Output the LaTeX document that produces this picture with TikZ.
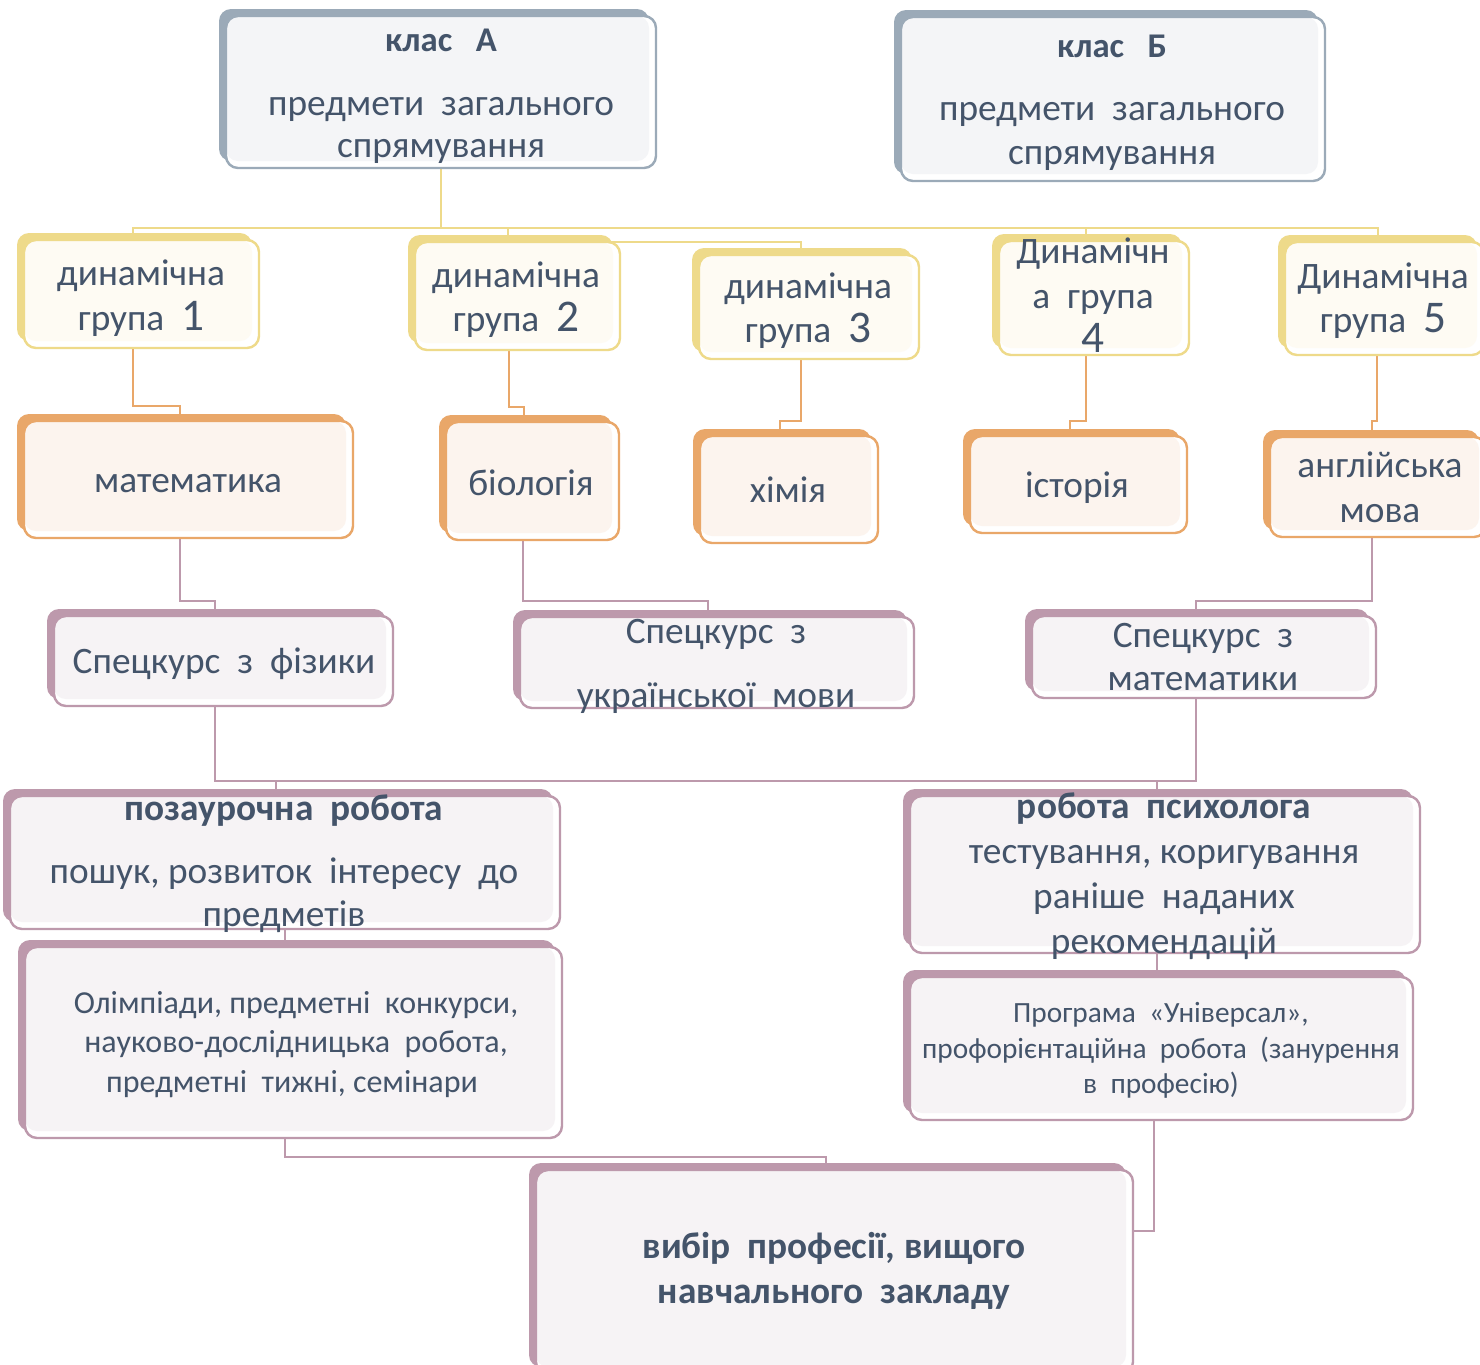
\documentclass[tikz,border=0pt]{standalone}
\usepackage{fontspec}
\setmainfont{Carlito}
\usetikzlibrary{shadows,backgrounds}
\definecolor{txt}{HTML}{44546A}
\definecolor{Gcol}{HTML}{9BAAB8}
\definecolor{Gfil}{HTML}{F4F5F7}
\definecolor{Ycol}{HTML}{EEDA8A}
\definecolor{Yfil}{HTML}{FEFBF3}
\definecolor{Ocol}{HTML}{E9A769}
\definecolor{Ofil}{HTML}{FCF4EE}
\definecolor{Mcol}{HTML}{BD99AC}
\definecolor{Mfil}{HTML}{F6F3F5}
\newcommand\fBody{\fontsize{28pt}{32pt}\selectfont}
\newcommand\fTitle{\fontsize{26pt}{30pt}\selectfont\bfseries}
\newcommand\fBold{\fontsize{28pt}{32pt}\selectfont\bfseries}
\newcommand\fOl{\fontsize{24pt}{28pt}\selectfont}
\newcommand\fPr{\fontsize{22pt}{26pt}\selectfont}
\newcommand\Dg[1]{{\fontsize{34pt}{34pt}\selectfont #1}}
\newcommand\BX[6]{%
  \pgfmathsetmacro\bw{(#4-#2)*0.75}\pgfmathsetmacro\bh{(#5-#3)*0.75}%
  \node[#6, minimum width=\bw pt, minimum height=\bh pt] (#1) at ({(#2+#4)/2},{(#3+#5)/2}) {};}
\tikzset{
  boxst/.style 2 args={draw=#1, line width=1.8pt, fill=white, rounded corners=9pt,
    inner sep=0pt, outer sep=0pt,
    copy shadow={shadow xshift=-5.25pt, shadow yshift=5.25pt, fill=#1, draw=none},
    path picture={\fill[#2, rounded corners=9pt] (path picture bounding box.north west)
      rectangle ([xshift=-5.25pt,yshift=5.25pt]path picture bounding box.south east);}},
  gbox/.style={boxst={Gcol}{Gfil}},
  ybox/.style={boxst={Ycol}{Yfil}},
  obox/.style={boxst={Ocol}{Ofil}},
  mbox/.style={boxst={Mcol}{Mfil}},
  tx/.style={text=txt, inner sep=0pt, anchor=base, font=\fBody},
  ycon/.style={draw=Ycol, line width=1.8pt},
  ocon/.style={draw=Ocol, line width=1.8pt},
  mcon/.style={draw=Mcol, line width=1.8pt},
}
\begin{document}
\begin{tikzpicture}[x=0.75pt, y=-0.75pt]
\useasboundingbox (0,0) rectangle (1480,1364);
% boxes
\BX{kA}{226}{16}{656}{168}{gbox}
\BX{kB}{901}{17}{1325}{181}{gbox}
\BX{dg1}{24}{240}{259}{348}{ybox}
\BX{dg2}{415}{242}{620}{350}{ybox}
\BX{dg3}{699}{255}{919}{359}{ybox}
\BX{dg4}{999}{241}{1189}{355}{ybox}
\BX{dg5}{1285}{242}{1484}{355}{ybox}
\BX{mat}{24}{421}{353}{538}{obox}
\BX{bio}{446}{422}{619}{540}{obox}
\BX{him}{700}{436}{878}{543}{obox}
\BX{ist}{970}{436}{1187}{533}{obox}
\BX{ang}{1270}{437}{1486}{537}{obox}
\BX{sf}{54}{616}{393}{706}{mbox}
\BX{su}{520}{617}{914}{708}{mbox}
\BX{sm}{1032}{616}{1376}{698}{mbox}
\BX{poz}{10}{796}{560}{929}{mbox}
\BX{psy}{910}{796}{1420}{953}{mbox}
\BX{olm}{25}{947}{562}{1138}{mbox}
\BX{prg}{910}{977}{1413}{1120}{mbox}
\BX{vyb}{536}{1170}{1133}{1374}{mbox}
% texts
\node[tx,font=\fTitle] (tA1) at (441,51) {клас~~~А};
\node[tx] (tA2) at (441,115) {предмети~~загального};
\node[tx] (tA3) at (441,157) {спрямування};
\node[tx,font=\fTitle] (tB1) at (1112,57) {клас~~~Б};
\node[tx] (tB2) at (1112,120) {предмети~~загального};
\node[tx] (tB3) at (1112,164) {спрямування};
\node[tx] (t11) at (141,285) {динамічна};
\node[tx] (t12) at (141,330) {група~~\Dg{1}};
\node[tx] (t21) at (516,287) {динамічна};
\node[tx] (t22) at (516,331) {група~~\Dg{2}};
\node[tx] (t31) at (808,298) {динамічна};
\node[tx] (t32) at (808,342) {група~~\Dg{3}};
\node[tx] (t41) at (1093,263) {Динамічн};
\node[tx] (t42) at (1093,308) {а~~група};
\node[tx] (t43) at (1093,352) {\Dg{4}};
\node[tx] (t51) at (1383,288) {Динамічна};
\node[tx] (t52) at (1383,332) {група~~\Dg{5}};
\node[tx] (tm) at (188,492) {математика};
\node[tx] (tb) at (531,495) {біологія};
\node[tx] (th) at (788,502) {хімія};
\node[tx] (ti) at (1077,497) {історія};
\node[tx] (ta1) at (1380,477) {англійська};
\node[tx] (ta2) at (1380,522) {мова};
\node[tx] (tsf) at (224,673) {Спецкурс~~з~~фізики};
\node[tx] (tsu1) at (716,643) {Спецкурс~~з};
\node[tx] (tsu2) at (716,707) {української~~мови};
\node[tx] (tsm1) at (1203,647) {Спецкурс~~з};
\node[tx] (tsm2) at (1203,690) {математики};
\node[tx,font=\fBold] (tp1) at (284,820) {позаурочна~~робота};
\node[tx] (tp2) at (284,883) {пошук,~розвиток~~інтересу~~до};
\node[tx] (tp3) at (284,926) {предметів};
\node[tx,font=\fBold] (tq1) at (1164,818) {робота~~психолога};
\node[tx] (tq2) at (1164,863) {тестування,~коригування};
\node[tx] (tq3) at (1164,908) {раніше~~наданих};
\node[tx] (tq4) at (1164,953) {рекомендацій};
\node[tx,font=\fOl] (to1) at (296,1013) {Олімпіади,~предметні~~конкурси,};
\node[tx,font=\fOl] (to2) at (296,1052) {науково-дослідницька~~робота,};
\node[tx,font=\fOl] (to3) at (292,1092) {предметні~~тижні,~семінари};
\node[tx,font=\fPr] (tr1) at (1161,1022) {Програма~~«Універсал»,};
\node[tx,font=\fPr] (tr2) at (1161,1058) {профорієнтаційна~~робота~~(занурення};
\node[tx,font=\fPr] (tr3) at (1161,1093) {в~~професію)};
\node[tx,font=\fBold] (tv1) at (834,1258) {вибір~~професії,~вищого};
\node[tx,font=\fBold] (tv2) at (834,1303) {навчального~~закладу};
% connectors
\begin{pgfonlayer}{background}
\fill[white] (0,0) rectangle (1480,1364);
\coordinate (busY) at (0,228);
\draw[ycon] (kA.south) -- (kA.south |- busY);
\draw[ycon] (dg1.north -| 133,0) |- (busY -| 1378,0) -- (dg5.north -| 1378,0);
\draw[ycon] (508,228) -- (508,242) -| (dg3.north -| 801,0);
\draw[ycon] (1086,228) -- (dg4.north -| 1086,0);
\draw[ocon] (dg1.south -| 133,0) |- (180,406) -- (mat.north -| 180,0);
\draw[ocon] (dg2.south -| 509,0) |- (524,407) -- (bio.north -| 524,0);
\draw[ocon] (dg3.south -| 801,0) |- (780,421) -- (him.north -| 780,0);
\draw[ocon] (dg4.south -| 1086,0) |- (1070,421) -- (ist.north -| 1070,0);
\draw[ocon] (dg5.south -| 1377,0) |- (1372,421) -- (ang.north -| 1372,0);
\draw[mcon] (mat.south -| 180,0) |- (215,601) -- (sf.north -| 215,0);
\draw[mcon] (bio.south -| 523,0) |- (708,601) -- (su.north -| 708,0);
\draw[mcon] (ang.south -| 1372,0) |- (1196,601) -- (sm.north -| 1196,0);
\draw[mcon] (sf.south -| 215,0) |- (1196,781) -- (sm.south -| 1196,0);
\draw[mcon] (276,781) -- (poz.north -| 276,0);
\draw[mcon] (1157,781) -- (psy.north -| 1157,0);
\draw[mcon] (poz.south -| 285,0) -- (olm.north -| 285,0);
\draw[mcon] (psy.south -| 1157,0) -- (prg.north -| 1157,0);
\draw[mcon] (olm.south -| 285,0) |- (826,1157) -- (vyb.north -| 826,0);
\draw[mcon] (prg.south -| 1154,0) |- (vyb.east |- 0,1231);
\end{pgfonlayer}
\end{tikzpicture}
\end{document}
